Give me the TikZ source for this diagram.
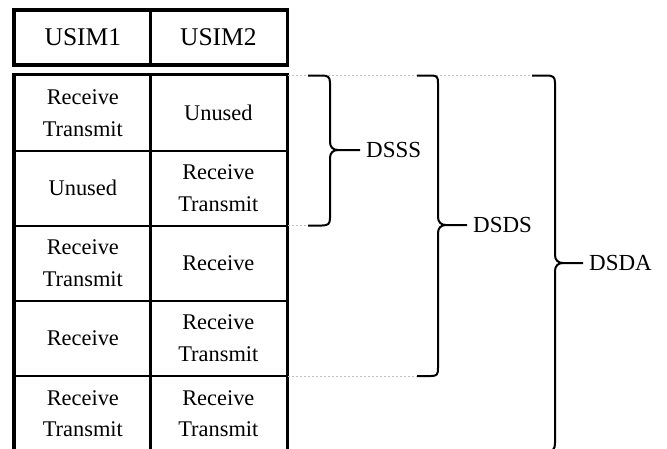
\documentclass[tikz,border=0pt]{standalone}
\usepackage{fontspec}
\setmainfont{Liberation Serif}
\begin{document}
\begin{tikzpicture}[x=1pt,y=-1pt,
  cell/.style={draw,line width=1.8pt,minimum width=136.3pt,minimum height=75.1pt,inner sep=0pt,align=center,font=\fontsize{22.4}{31.5}\selectfont},
  headcell/.style={cell,minimum height=53pt,font=\fontsize{25.5}{30}\selectfont},
  outer/.style={line width=3.5pt},
  guide/.style={draw=black!25,line width=0.7pt,dash pattern=on 2pt off 2pt},
  bracepath/.style={line width=2pt,line join=round},
  lab/.style={anchor=west,inner sep=6pt,font=\fontsize{23}{28}\selectfont}]
\useasboundingbox (0,0) rectangle (667,448);
% header
\node[headcell] (h1) at (82.85,37.5) {USIM1};
\node[headcell] (h2) at (218.35,37.5) {USIM2};
\draw[outer] (h1.north west) rectangle (h2.south east);
% body cells
\node[cell] (a1) at (82.85,113.05) {Receive\\Transmit};
\node[cell] (b1) at (218.35,113.05) {Unused};
\node[cell] (a2) at (82.85,188.15) {Unused};
\node[cell] (b2) at (218.35,188.15) {Receive\\Transmit};
\node[cell] (a3) at (82.85,263.25) {Receive\\Transmit};
\node[cell] (b3) at (218.35,263.25) {Receive};
\node[cell] (a4) at (82.85,338.35) {Receive};
\node[cell] (b4) at (218.35,338.35) {Receive\\Transmit};
\node[cell] (a5) at (82.85,413.45) {Receive\\Transmit};
\node[cell] (b5) at (218.35,413.45) {Receive\\Transmit};
\draw[outer] (a1.north west) rectangle (b5.south east);
% guides
\coordinate (g0) at (288,75.5);
\coordinate (g1) at (288,225.5);
\coordinate (g2) at (288,376);
\coordinate (t0) at (532,75.5);
\coordinate (t1) at (308,225.5);
\coordinate (t2) at (417,376);
\draw[guide] (g0) -- (t0);
\draw[guide] (g1) -- (t1);
\draw[guide] (g2) -- (t2);
% labels
\node[lab] (dsss) at (360,150) {DSSS};
\node[lab] (dsds) at (467,225) {DSDS};
\node[lab] (dsda) at (583,263) {DSDA};
% braces
\draw[bracepath] (308,75.5) -- (322,75.5) .. controls (328,75.5) and (330,77) .. (330,83) -- (330,142) .. controls (330,147) and (333,150) .. (338,150) -- (dsss.west);
\draw[bracepath] (t1) -- (322,225.5) .. controls (328,225.5) and (330,224) .. (330,218) -- (330,158) .. controls (330,153) and (333,150) .. (338,150);
\draw[bracepath] (417,75.5) -- (431,75.5) .. controls (437,75.5) and (438,77) .. (438,83) -- (438,217) .. controls (438,222) and (441,225) .. (446,225) -- (dsds.west);
\draw[bracepath] (t2) -- (431,376) .. controls (437,376) and (438,374.5) .. (438,368) -- (438,233) .. controls (438,228) and (441,225) .. (446,225);
\draw[bracepath] (t0) -- (547,75.5) .. controls (553,75.5) and (555,77) .. (555,83) -- (555,255) .. controls (555,260) and (558,263) .. (563,263) -- (dsda.west);
\draw[bracepath] (532,451) -- (547,451) .. controls (553,451) and (555,449.5) .. (555,443) -- (555,271) .. controls (555,266) and (558,263) .. (563,263);
\end{tikzpicture}
\end{document}
